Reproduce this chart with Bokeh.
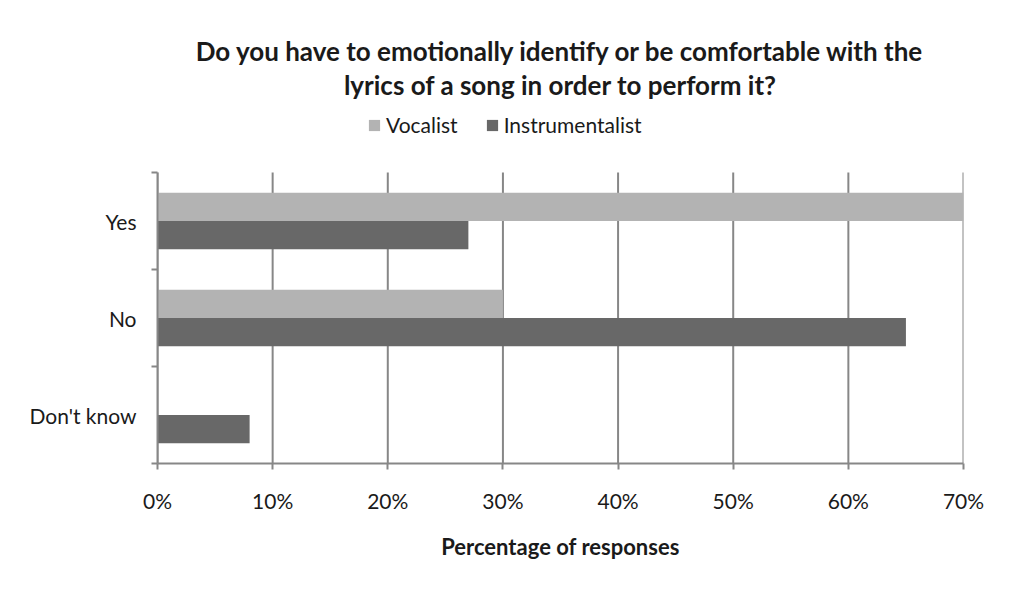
from bokeh.plotting import figure
from bokeh.models import (FixedTicker, PrintfTickFormatter, Legend, LegendItem,
                          ColumnDataSource, Range1d, Title)
from bokeh.embed import file_html
from bokeh.resources import INLINE

# ---- data ----
categories = ["Yes", "No", "Don't know"]
vocalist = [70, 30, 0]
instrumentalist = [27, 65, 8]
x_ticks = [0, 10, 20, 30, 40, 50, 60, 70]
title_lines = ["Do you have to emotionally identify or be comfortable with the",
               "lyrics of a song in order to perform it?"]
x_label = "Percentage of responses"
series_names = ["Vocalist", "Instrumentalist"]

# ---- styles / layout ----
FONT = "Lato"
TXT = "#1a1a1a"
GRID = "#878787"
COL_V = "#b3b3b3"
COL_I = "#686868"
BAR_H = 0.29
W, H = 1011, 589
LEFT, RIGHT, BOTTOM, TOP = 157, 48, 126, 100
PLOT_PX = 291                 # pixel height of the bar area
FRAME_PX = H - BOTTOM - TOP   # frame also holds the legend row
TITLE_SHIFT = -55             # title centred on the whole chart, not the frame

n = len(categories)
centers = [n - i - 0.5 for i in range(n)]

src = ColumnDataSource(dict(
    cat=categories,
    yv=[c + BAR_H / 2 for c in centers],
    yi=[c - BAR_H / 2 for c in centers],
    v=vocalist,
    ins=instrumentalist,
))

p = figure(width=W, height=H, output_backend="svg", toolbar_location=None,
           x_range=Range1d(0, x_ticks[-1]),
           y_range=Range1d(0, n * FRAME_PX / PLOT_PX),
           min_border_left=LEFT, min_border_right=RIGHT, min_border_top=TOP,
           min_border_bottom=BOTTOM)
p.outline_line_color = None
p.background_fill_color = "white"
p.border_fill_color = "white"
p.xgrid.grid_line_color = None
p.ygrid.grid_line_color = None

# vertical grid lines, limited to the bar area
p.segment(x0=x_ticks, y0=[0] * len(x_ticks), x1=x_ticks, y1=[n] * len(x_ticks),
          line_color=GRID, line_width=2)

rv = p.hbar(y="yv", left=0, right="v", height=BAR_H, source=src,
            fill_color=COL_V, line_color=None)
ri = p.hbar(y="yi", left=0, right="ins", height=BAR_H, source=src,
            fill_color=COL_I, line_color=None)

# x axis
p.xaxis.ticker = FixedTicker(ticks=x_ticks)
p.xaxis.formatter = PrintfTickFormatter(format="%d%%")
p.xaxis.axis_line_color = GRID
p.xaxis.axis_line_width = 2
p.xaxis.major_tick_line_color = GRID
p.xaxis.major_tick_line_width = 2
p.xaxis.major_tick_out = 6
p.xaxis.major_tick_in = 0
p.xaxis.minor_tick_line_color = None
p.xaxis.major_label_standoff = 18
p.xaxis.major_label_text_font = FONT
p.xaxis.major_label_text_font_size = "21px"
p.xaxis.major_label_text_color = TXT
p.xaxis.axis_label = x_label
p.xaxis.axis_label_text_font = FONT
p.xaxis.axis_label_text_font_style = "bold"
p.xaxis.axis_label_text_font_size = "22px"
p.xaxis.axis_label_text_color = TXT
p.xaxis.axis_label_standoff = 17

# y axis: labels at category centers, ticks at band boundaries
p.yaxis.ticker = FixedTicker(ticks=centers, minor_ticks=list(range(n + 1)))
p.yaxis.major_label_overrides = {c: cat for c, cat in zip(centers, categories)}
p.yaxis.bounds = (0, n)
p.yaxis.axis_line_color = GRID
p.yaxis.axis_line_width = 2
p.yaxis.major_tick_line_color = None
p.yaxis.major_tick_out = 0
p.yaxis.major_tick_in = 0
p.yaxis.minor_tick_line_color = GRID
p.yaxis.minor_tick_line_width = 2
p.yaxis.minor_tick_out = 6
p.yaxis.minor_tick_in = 0
p.yaxis.major_label_standoff = 15
p.yaxis.major_label_text_font = FONT
p.yaxis.major_label_text_font_size = "21px"
p.yaxis.major_label_text_color = TXT

legend = Legend(items=[LegendItem(label=series_names[0], renderers=[rv]),
                       LegendItem(label=series_names[1], renderers=[ri])],
                orientation="horizontal", location=(210, 326),
                label_text_font=FONT, label_text_font_size="21px",
                label_text_color=TXT, glyph_width=14, glyph_height=14,
                label_standoff=5, spacing=27, border_line_color=None,
                background_fill_alpha=0, padding=0, margin=0)
p.add_layout(legend, "center")

# title: two lines stacked above the frame (inner line added first), plus a top spacer
p.add_layout(Title(text=title_lines[1], align="center", offset=TITLE_SHIFT,
                   text_font=FONT, text_font_size="26px", text_font_style="bold",
                   text_color=TXT, standoff=0), "above")
p.add_layout(Title(text=title_lines[0], align="center", offset=TITLE_SHIFT,
                   text_font=FONT, text_font_size="26px", text_font_style="bold",
                   text_color=TXT, standoff=0), "above")
p.add_layout(Title(text=" ", text_font_size="15px", standoff=0), "above")

open("out.html", "w").write(file_html(p, INLINE))
